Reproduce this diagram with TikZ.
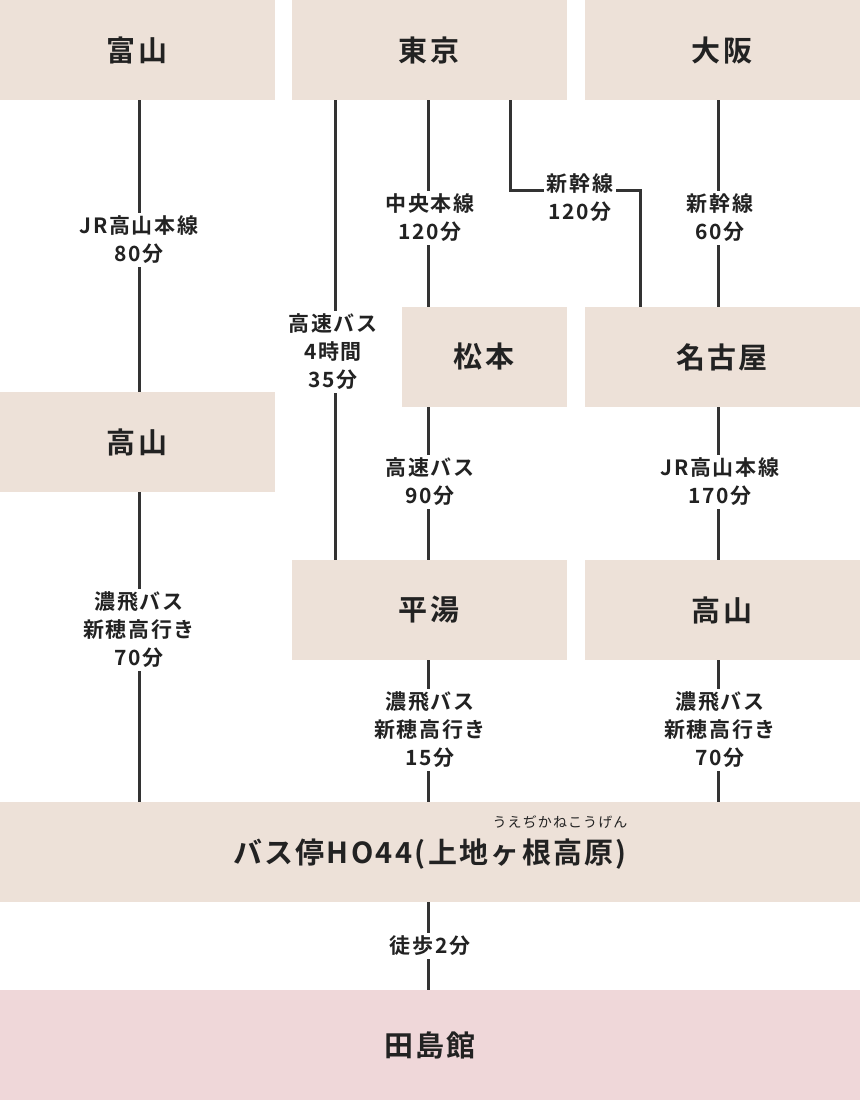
\documentclass[tikz,border=0pt]{standalone}
\usepackage{fontspec}
\setmainfont{Noto Sans CJK JP}[BoldFont={* Bold},LetterSpace=8]
\definecolor{boxc}{HTML}{EDE1D8}
\definecolor{pinkc}{HTML}{EFD7D9}
\definecolor{linec}{HTML}{333333}
\definecolor{txt}{HTML}{222222}
\tikzset{
 place/.style={fill=none,draw=none,inner sep=0pt,text=txt,font=\fontsize{29}{32}\selectfont\bfseries},
 lbl/.style={fill=white,inner sep=3pt,align=center,text=txt,font=\fontsize{21}{28}\selectfont\bfseries},
 conn/.style={draw=linec,line width=3pt}
}
\begin{document}
\begin{tikzpicture}[x=1pt,y=-1pt]
\useasboundingbox (0,0) rectangle (860,1100);
% boxes
\fill[boxc] (0,0) rectangle (275,100); \node[place] (toyama) at (137,50) {富山};
\fill[boxc] (292,0) rectangle (567,100); \node[place] (tokyo) at (429,50) {東京};
\fill[boxc] (585,0) rectangle (860,100); \node[place] (osaka) at (722,50) {大阪};
\fill[boxc] (402,307) rectangle (567,407); \node[place] (matsu) at (484,357) {松本};
\fill[boxc] (585,307) rectangle (860,407); \node[place] (nagoya) at (722,357) {名古屋};
\fill[boxc] (0,392) rectangle (275,492); \node[place] (takaL) at (137,442) {高山};
\fill[boxc] (292,560) rectangle (567,660); \node[place] (hira) at (429,610) {平湯};
\fill[boxc] (585,560) rectangle (860,660); \node[place] (takaR) at (722,610) {高山};
\fill[boxc] (0,802) rectangle (860,902); \node[place] (bus) at (430,854) {バス停HO44(上地ヶ根高原)};
\node[text=txt,font=\fontsize{14}{15}\selectfont] (ruby) at (560,822) {うえぢかねこうげん};
\fill[pinkc] (0,990) rectangle (860,1100); \node[place] (tajima) at (430,1045) {田島館};
% coordinates
\coordinate (a1) at (139,100); \coordinate (a2) at (139,392);
\coordinate (b1) at (139,492); \coordinate (b2) at (139,802);
\coordinate (c1) at (335,100); \coordinate (c2) at (335,560);
\coordinate (d1) at (428,100); \coordinate (d2) at (428,307);
\coordinate (e1) at (510,100); \coordinate (e2) at (510,190); \coordinate (e3) at (640,190); \coordinate (e4) at (640,307);
\coordinate (f1) at (718,100); \coordinate (f2) at (718,307);
\coordinate (g1) at (428,407); \coordinate (g2) at (428,560);
\coordinate (h1) at (718,407); \coordinate (h2) at (718,560);
\coordinate (i1) at (428,660); \coordinate (i2) at (428,802);
\coordinate (j1) at (718,660); \coordinate (j2) at (718,802);
\coordinate (k1) at (428,902); \coordinate (k2) at (428,990);
% connectors
\draw[conn] (a1)--(a2); \draw[conn] (b1)--(b2); \draw[conn] (c1)--(c2);
\draw[conn] (d1)--(d2); \draw[conn] (e1)--(e2)--(e3)--(e4); \draw[conn] (f1)--(f2);
\draw[conn] (g1)--(g2); \draw[conn] (h1)--(h2); \draw[conn] (i1)--(i2);
\draw[conn] (j1)--(j2); \draw[conn] (k1)--(k2);
% labels
\node[lbl] at (139,240) {JR高山本線\\80分};
\node[lbl] at (139,630) {濃飛バス\\新穂高行き\\70分};
\node[lbl] at (333,352) {高速バス\\4時間\\35分};
\node[lbl] at (430,218) {中央本線\\120分};
\node[lbl] at (580,198) {新幹線\\120分};
\node[lbl] at (720,218) {新幹線\\60分};
\node[lbl] at (430,482) {高速バス\\90分};
\node[lbl] at (720,482) {JR高山本線\\170分};
\node[lbl] at (430,730) {濃飛バス\\新穂高行き\\15分};
\node[lbl] at (720,730) {濃飛バス\\新穂高行き\\70分};
\node[lbl] at (430,946) {徒歩2分};
\end{tikzpicture}
\end{document}
